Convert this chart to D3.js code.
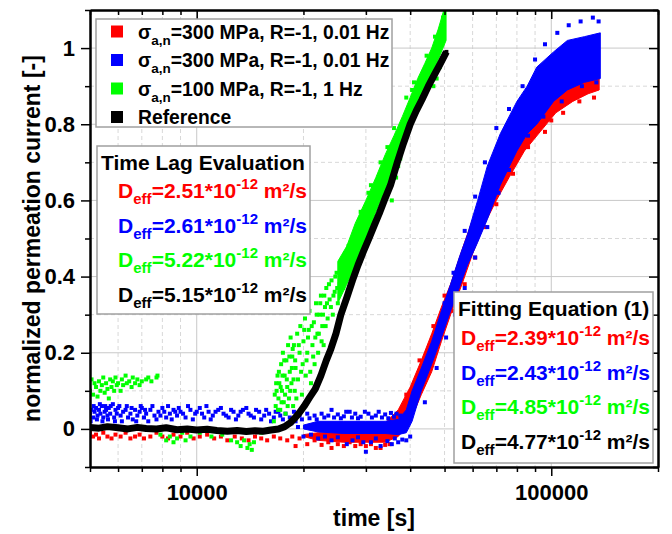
<!DOCTYPE html>
<html>
<head>
<meta charset="utf-8">
<script src="https://cdn.jsdelivr.net/npm/d3@7/dist/d3.min.js"></script>
<style>
  body { margin: 0; background: #fff; }
  text { font-family: "Liberation Sans", Arial, sans-serif; font-weight: bold; }
</style>
</head>
<body>
<div id="root"></div>
<script>
// ---- data ----
var colors = ["#ff0000", "#0000ff", "#00ff00", "#000000"];

var xMajor = [10000, 100000];
var xMinor = [5000, 6000, 7000, 8000, 9000, 20000, 30000, 40000, 50000, 60000, 70000, 80000, 90000, 200000];
var yMajor = [0, 0.2, 0.4, 0.6, 0.8, 1];
var yMinor = [-0.1, 0.1, 0.3, 0.5, 0.7, 0.9, 1.1];

var legendSub = ["a,n", "a,n", "a,n", ""];
var legendRest = ["=300 MPa, R=-1, 0.01 Hz", "=300 MPa, R=-1, 0.01 Hz", "=100 MPa, R=-1, 1 Hz", "Reference"];

var lagValues = ["2.51", "2.61", "5.22", "5.15"];
var fitValues = ["2.39", "2.43", "4.85", "4.77"];

// reference (black), centre of the dense trace
var refT = [5000, 5300, 5600, 6000, 6400, 6800, 7200, 7700, 8200, 8800, 9400, 10000, 10700, 11400, 12200, 13000, 13800, 14600, 15400, 16200, 17000, 17700, 18300, 18900, 19500, 20100, 20800, 21600, 22400, 23200, 23900, 24700, 25500, 26500, 27500, 28500, 29500, 30600, 31700, 32700, 33800, 35200, 36800, 38300, 40000, 41600, 43200, 45000, 46800, 48700, 50600];
var refY = [0.004, 0.002, 0.006, 0.003, 0, 0.004, 0.001, 0, 0.003, -0.002, 0, -0.003, -0.001, -0.004, -0.006, -0.004, -0.007, -0.005, -0.006, -0.003, 0, 0.006, 0.015, 0.028, 0.043, 0.06, 0.082, 0.105, 0.14, 0.18, 0.21, 0.25, 0.3, 0.345, 0.39, 0.43, 0.465, 0.5, 0.535, 0.565, 0.6, 0.64, 0.7, 0.75, 0.8, 0.835, 0.865, 0.9, 0.93, 0.96, 0.99];

// dense clouds: lower / upper envelope
var redT = [20000, 22000, 26000, 30000, 34000, 37000, 40000, 43000, 46000, 49000, 52000, 56000, 60000, 65000, 70000, 76000, 84000, 93000, 103000, 115000, 127000, 136500];
var redLo = [-0.02, -0.03, -0.035, -0.035, -0.035, -0.02, 0.02, 0.09, 0.15, 0.23, 0.3, 0.38, 0.46, 0.54, 0.6, 0.66, 0.73, 0.78, 0.83, 0.86, 0.88, 0.89];
var redHi = [-0.015, -0.01, -0.01, -0.01, 0.015, 0.05, 0.11, 0.18, 0.25, 0.32, 0.38, 0.47, 0.55, 0.62, 0.67, 0.72, 0.79, 0.84, 0.88, 0.91, 0.93, 0.945];

var blueT = [20000, 22000, 26000, 30000, 34000, 37000, 39000, 40500, 43000, 46000, 49000, 52000, 55000, 58000, 62000, 66000, 71800, 80000, 85500, 91000, 101500, 111000, 124000, 137500];
var blueLo = [0.0, -0.008, -0.012, -0.012, -0.012, -0.015, -0.01, 0.02, 0.1, 0.17, 0.24, 0.31, 0.37, 0.43, 0.49, 0.55, 0.64, 0.73, 0.775, 0.8, 0.86, 0.89, 0.91, 0.92];
var blueHi = [0.01, 0.02, 0.02, 0.02, 0.02, 0.025, 0.05, 0.1, 0.16, 0.23, 0.31, 0.38, 0.45, 0.51, 0.6, 0.69, 0.775, 0.86, 0.9, 0.95, 0.99, 1.02, 1.03, 1.04];

var greenT = [25000, 26500, 28000, 30000, 32000, 34000, 36000, 38000, 40000, 42000, 44000, 46000, 48000, 50500];
var greenLo = [0.33, 0.38, 0.43, 0.5, 0.57, 0.63, 0.69, 0.75, 0.8, 0.85, 0.89, 0.93, 0.97, 1.02];
var greenHi = [0.44, 0.48, 0.54, 0.6, 0.66, 0.72, 0.77, 0.82, 0.87, 0.92, 0.96, 1.0, 1.05, 1.12];

// loose points around the clouds
var redPts = [[5000, -0.01], [5100, -0.02], [5200, -0.015], [5300, -0.025], [5450, -0.01], [5600, -0.02], [5750, -0.025], [5900, -0.015], [6100, -0.02], [6300, -0.01], [6500, -0.025], [6700, -0.02], [6900, -0.015], [7100, -0.025], [7400, -0.02], [7700, -0.01], [8000, -0.02], [8300, -0.025], [8600, -0.015], [9000, -0.02], [9400, -0.01], [9800, -0.025], [10200, -0.02], [10700, -0.015], [11200, -0.025], [11700, -0.02], [12200, -0.03], [12800, -0.02], [13400, -0.025], [14000, -0.03], [14600, -0.02], [15200, -0.025], [15800, -0.03], [16500, -0.02], [17200, -0.025], [18000, -0.03], [18600, -0.02], [19000, -0.045], [19500, -0.025],
  [20500, -0.04], [21500, -0.03], [22500, -0.042], [23500, -0.035], [24000, -0.05], [25000, -0.04], [26000, -0.045], [27000, -0.035], [28000, -0.045], [29000, -0.04], [30000, -0.045], [31000, -0.04], [32000, -0.05], [33000, -0.05], [34000, -0.042], [35000, -0.04], [36000, 0.03], [39000, 0.09], [42500, 0.18], [46500, 0.27], [50000, 0.35], [53000, 0.31], [57000, 0.38], [61000, 0.45], [65000, 0.53], [70000, 0.59], [78000, 0.67], [86000, 0.74], [96000, 0.78], [100000, 0.81], [108000, 0.83], [120000, 0.86], [132000, 0.87]];

var bluePts = [[5000, 0.04], [5050, 0.05], [5100, 0.03], [5150, 0.045], [5200, 0.055], [5250, 0.035], [5300, 0.05], [5350, 0.04], [5400, 0.06], [5450, 0.03], [5500, 0.045], [5550, 0.05], [5600, 0.035], [5650, 0.055], [5700, 0.04], [5800, 0.065], [5850, 0.03], [5900, 0.05], [5950, 0.04], [6000, 0.055], [6100, 0.035], [6200, 0.045], [6300, 0.05], [6400, 0.03], [6500, 0.04], [6600, 0.025], [6700, 0.05], [6800, 0.035], [6900, 0.045], [7000, 0.055], [7100, 0.03], [7200, 0.04], [7400, 0.05], [7600, 0.035], [7800, 0.045], [8000, 0.055], [8200, 0.03], [8400, 0.04], [8600, 0.05], [8800, 0.035], [9000, 0.045], [9300, 0.03], [9600, 0.05], [9900, 0.04], [10200, 0.055], [10500, 0.03], [10800, 0.045], [11100, 0.035], [11500, 0.05], [11900, 0.04], [12300, 0.03], [12700, 0.045], [13100, 0.035], [13500, 0.05], [14000, 0.04], [14500, 0.03], [15000, 0.045], [15500, 0.035], [16000, 0.04], [16500, 0.03], [17000, 0.045], [17500, 0.025],
  [5020, 0.02], [5120, 0.06], [5230, 0.025], [5330, 0.065], [5420, 0.02], [5520, 0.06], [5620, 0.025], [5720, 0.06], [5880, 0.02], [6050, 0.06], [6150, 0.02], [6350, 0.06], [6550, 0.055], [6750, 0.02], [6950, 0.06], [7150, 0.05], [7300, 0.02], [7500, 0.06], [7700, 0.025], [7900, 0.035], [8100, 0.045], [8300, 0.06], [8500, 0.025], [8700, 0.045], [8900, 0.055], [9150, 0.04], [9450, 0.06], [9750, 0.025], [10000, 0.045], [10350, 0.04], [10650, 0.06], [10950, 0.025], [11300, 0.045], [11700, 0.055], [12100, 0.035], [12500, 0.05], [12900, 0.025], [13300, 0.045], [13800, 0.055], [14200, 0.035], [14700, 0.05], [15200, 0.025], [15700, 0.05], [16200, 0.02], [16700, 0.045], [17200, 0.035], [17800, 0.04], [18300, 0.03], [18800, 0.045],
  [18500, 0.015], [19000, 0.02], [19300, 0.005], [19500, 0.035], [19800, 0.025], [20500, 0.04], [20800, 0.028], [21500, 0.035], [21800, 0.025], [22500, 0.04], [22900, 0.03], [23500, 0.035], [24000, 0.05], [24400, 0.03], [25000, 0.038], [25500, 0.028], [26000, 0.033], [26400, 0.045], [27000, 0.045], [27400, 0.03], [28000, 0.04], [28500, 0.028], [29000, 0.032], [29800, 0.045], [30500, 0.04], [31200, 0.03], [32000, 0.035], [32600, 0.045], [33300, 0.03], [34000, 0.038], [34700, 0.028], [35300, 0.042], [36000, 0.032], [36600, 0.04], [37500, 0.035],
  [20000, -0.02], [21000, -0.015], [22000, -0.025], [23000, -0.02], [24000, -0.03], [25000, -0.022], [26500, -0.04], [27500, -0.03], [28500, -0.022], [29500, -0.035], [30000, -0.06], [31000, -0.035], [32000, -0.025], [33000, -0.045], [34500, -0.032], [35500, -0.04], [36200, -0.025], [37000, -0.035], [38000, -0.028], [39000, -0.03], [40000, -0.02],
  [44000, 0.07], [47500, 0.16], [50500, 0.24], [53500, 0.3], [57000, 0.37], [61000, 0.45], [66000, 0.53], [71000, 0.62], [76000, 0.68], [50000, 0.33], [53000, 0.41], [57000, 0.52], [61000, 0.61], [65000, 0.7], [70000, 0.79], [76000, 0.84], [83000, 0.9], [90000, 0.97], [96000, 1.01], [104000, 1.04], [112000, 1.06], [121000, 1.07], [131000, 1.08], [136000, 1.07], [107000, 0.86], [122000, 0.9], [134000, 0.91], [86000, 0.77], [95000, 0.82]];

var greenPts = [[5000, 0.1], [5050, 0.13], [5100, 0.09], [5150, 0.12], [5200, 0.11], [5250, 0.085], [5300, 0.125], [5350, 0.1], [5400, 0.115], [5450, 0.135], [5500, 0.095], [5550, 0.12], [5600, 0.105], [5650, 0.08], [5700, 0.13], [5750, 0.11], [5800, 0.125], [5850, 0.1], [5900, 0.135], [5950, 0.115], [6000, 0.12], [6100, 0.1], [6150, 0.13], [6200, 0.115], [6300, 0.14], [6350, 0.12], [6450, 0.125], [6550, 0.11], [6600, 0.135], [6700, 0.12], [6800, 0.13], [6900, 0.115], [7000, 0.125], [7200, 0.13], [7300, 0.135], [7450, 0.125], [7700, 0.135], [7750, 0.14],
  [7900, -0.015], [8200, -0.03], [8400, -0.02], [8600, -0.035], [8800, -0.025], [9100, -0.01], [9300, -0.03], [9600, -0.02], [10200, -0.01], [11000, -0.02], [11800, -0.015], [12500, -0.03], [13000, -0.035], [13300, -0.045], [13600, -0.03], [13900, -0.05], [14100, -0.04], [14300, -0.055], [14500, -0.035], [15200, -0.01], [16000, 0], [16500, 0.02],
  [16700, 0.06], [16800, 0.1], [16900, 0.14], [17000, 0.08], [17100, 0.12], [17200, 0.05], [17300, 0.17], [17400, 0.1], [17500, 0.2], [17600, 0.07], [17700, 0.14], [17800, 0.04], [17900, 0.18], [18000, 0.11], [18100, 0.22], [18200, 0.08], [18300, 0.15], [18400, 0.24], [18500, 0.12], [18600, 0.19], [18700, 0.06], [18800, 0.22], [18900, 0.1], [19000, 0.16], [19200, 0.25], [19300, 0.13], [19500, 0.2], [19600, 0.27], [19800, 0.09], [19900, 0.17], [20000, 0.23], [20200, 0.29], [20300, 0.14], [20500, 0.2], [20700, 0.26], [20800, 0.31], [21000, 0.12], [21200, 0.22], [21400, 0.28], [21500, 0.17], [21700, 0.33], [21900, 0.25], [22000, 0.2], [22200, 0.3], [22400, 0.35], [22600, 0.27], [22800, 0.22], [23000, 0.32], [23200, 0.37], [23400, 0.29], [23700, 0.34], [24000, 0.39], [24200, 0.3], [24500, 0.36], [24800, 0.41], [25000, 0.33], [25300, 0.38], [25600, 0.43], [25900, 0.37], [26200, 0.46], [26500, 0.4], [26800, 0.48], [27100, 0.43],
  [16600, 0.09], [16750, 0.12], [16950, 0.05], [17050, 0.15], [17250, 0.11], [17350, 0.07], [17450, 0.14], [17650, 0.18], [17750, 0.09], [17950, 0.13], [18050, 0.06], [18250, 0.19], [18350, 0.1], [18550, 0.16], [18650, 0.21], [18750, 0.13], [18950, 0.18], [19100, 0.08], [19400, 0.22], [19700, 0.15], [20100, 0.26], [20400, 0.18], [20600, 0.24], [20900, 0.15], [21100, 0.27], [21300, 0.19], [21600, 0.24], [21800, 0.3], [22100, 0.25], [22300, 0.33], [22500, 0.23], [22700, 0.3], [22900, 0.35], [23100, 0.27], [23300, 0.33], [23600, 0.38], [23900, 0.32], [24300, 0.35], [24600, 0.4], [24900, 0.37],
  [27500, 0.5], [28500, 0.47], [29000, 0.57], [30500, 0.62], [31000, 0.64], [32500, 0.6], [33000, 0.7], [34500, 0.74], [35500, 0.6], [36000, 0.79], [36500, 0.66], [37000, 0.69], [37500, 0.71], [38500, 0.77], [39000, 0.87], [40500, 0.89], [41000, 0.91], [42500, 0.87], [44500, 0.98], [46500, 0.9], [47000, 1.03], [47500, 0.92], [48500, 0.95], [49500, 1.08]];

// ---- chart ----
var W = 672, H = 534;
var margin = { top: 10, right: 14, bottom: 67, left: 90 };
var width = W - margin.left - margin.right;
var height = H - margin.top - margin.bottom;

var svg = d3.select("#root").append("svg")
    .attr("width", W)
    .attr("height", H);

var graph = svg.append("g")
    .attr("transform", "translate(" + margin.left + "," + margin.top + ")");

var x = d3.scaleLog().domain([5000, 200000]).range([0, width]);
var y = d3.scaleLinear().domain([-0.1, 1.1]).range([height, 0]);

// grid
graph.selectAll(".gx").data(xMinor.filter(function (d) { return d > 5000 && d < 200000; })).enter().append("line")
    .attr("x1", d => x(d)).attr("x2", d => x(d)).attr("y1", 0).attr("y2", height)
    .attr("stroke", "#d8d8d8").attr("stroke-dasharray", "4,3");
graph.selectAll(".gy").data(yMinor.filter(function (d) { return d > -0.1 && d < 1.1; })).enter().append("line")
    .attr("x1", 0).attr("x2", width).attr("y1", d => y(d)).attr("y2", d => y(d))
    .attr("stroke", "#d8d8d8").attr("stroke-dasharray", "4,3");
graph.selectAll(".gX").data(xMajor).enter().append("line")
    .attr("x1", d => x(d)).attr("x2", d => x(d)).attr("y1", 0).attr("y2", height)
    .attr("stroke", "#c8c8c8");
graph.selectAll(".gY").data(yMajor).enter().append("line")
    .attr("x1", 0).attr("x2", width).attr("y1", d => y(d)).attr("y2", d => y(d))
    .attr("stroke", "#c8c8c8");

// data layer, clipped to the frame
svg.append("clipPath").attr("id", "clip")
    .append("rect").attr("width", width).attr("height", height);
var plot = graph.append("g").attr("clip-path", "url(#clip)");

function band(ts, lo, hi, color)
{
    var rows = ts.map(function (t, i) { return { t: t, lo: lo[i], hi: hi[i] }; });
    plot.append("path")
        .datum(rows)
        .attr("fill", color)
        .attr("stroke", color)
        .attr("stroke-width", 1)
        .attr("d", d3.area()
            .x(d => x(d.t))
            .y0(d => y(d.lo))
            .y1(d => y(d.hi))
        );
}

function dots(pts, color)
{
    plot.append("g").selectAll("rect").data(pts).enter().append("rect")
        .attr("x", d => x(d[0]) - 2)
        .attr("y", d => y(d[1]) - 2)
        .attr("width", 4)
        .attr("height", 4)
        .attr("fill", color);
}

band(redT, redLo, redHi, colors[0]);
dots(redPts, colors[0]);
band(blueT, blueLo, blueHi, colors[1]);
dots(bluePts, colors[1]);
band(greenT, greenLo, greenHi, colors[2]);
dots(greenPts, colors[2]);

// reference trace
var ref = refT.map(function (t, i) { return [t, refY[i]]; });
plot.append("path")
    .datum(ref)
    .attr("fill", "none")
    .attr("stroke", colors[3])
    .attr("stroke-width", 7)
    .attr("stroke-linejoin", "round")
    .attr("d", d3.line().x(d => x(d[0])).y(d => y(d[1])));
dots(ref, colors[3]);

// axes
function styleAxis(g)
{
    g.select(".domain").attr("stroke-width", 2);
    g.selectAll(".tick line").attr("stroke-width", 1.5);
    g.selectAll("text").style("font-size", "22px").attr("fill", "#000");
}

graph.append("g").attr("transform", "translate(0," + height + ")")
    .call(d3.axisBottom(x).tickValues(xMajor).tickFormat(d3.format("d")).tickSize(9).tickSizeOuter(0).tickPadding(8))
    .call(styleAxis);
graph.append("g").attr("transform", "translate(0," + height + ")")
    .call(d3.axisBottom(x).tickValues(xMinor).tickFormat("").tickSize(5).tickSizeOuter(0))
    .call(styleAxis);
graph.append("g")
    .call(d3.axisTop(x).tickValues(xMajor).tickFormat("").tickSize(-9).tickSizeOuter(0))
    .call(styleAxis);
graph.append("g")
    .call(d3.axisTop(x).tickValues(xMinor).tickFormat("").tickSize(-5).tickSizeOuter(0))
    .call(styleAxis);

graph.append("g")
    .call(d3.axisLeft(y).tickValues(yMajor).tickFormat(d3.format("~g")).tickSize(9).tickSizeOuter(0).tickPadding(6))
    .call(styleAxis);
graph.append("g")
    .call(d3.axisLeft(y).tickValues(yMinor).tickFormat("").tickSize(5).tickSizeOuter(0))
    .call(styleAxis);
graph.append("g").attr("transform", "translate(" + width + ",0)")
    .call(d3.axisRight(y).tickValues(yMajor).tickFormat("").tickSize(-9).tickSizeOuter(0))
    .call(styleAxis);
graph.append("g").attr("transform", "translate(" + width + ",0)")
    .call(d3.axisRight(y).tickValues(yMinor).tickFormat("").tickSize(-5).tickSizeOuter(0))
    .call(styleAxis);

// axis titles
svg.append("text")
    .attr("x", margin.left + width / 2)
    .attr("y", 526)
    .style("text-anchor", "middle")
    .style("font-size", "23px")
    .text("time [s]");

svg.append("text")
    .attr("transform", "translate(40," + (margin.top + height / 2) + ") rotate(-90)")
    .style("text-anchor", "middle")
    .style("font-size", "23px")
    .text("normalized permeation current [-]");

// legend
var leg = svg.append("g");
leg.append("rect").attr("x", 96).attr("y", 19).attr("width", 296).attr("height", 108)
    .attr("fill", "#fff").attr("stroke", "#a0a0a0").attr("stroke-width", 1.5);
legendRest.forEach(function (label, i)
{
    var cy = 31.5 + i * 28.5;
    leg.append("rect").attr("x", 111).attr("y", cy - 6).attr("width", 12).attr("height", 12).attr("fill", colors[i]);
    var t = leg.append("text").attr("x", 138).attr("y", cy + 7).style("font-size", "19.3px");
    if (legendSub[i])
    {
        t.append("tspan").text("σ");
        t.append("tspan").attr("dy", 6).style("font-size", "13.5px").text(legendSub[i]);
        t.append("tspan").attr("dy", -6).text(label);
    }
    else
    {
        t.text(label);
    }
});

// D_eff text boxes
function deffBox(bx, by, bw, bh, title, values, rowTop)
{
    var g = svg.append("g");
    g.append("rect").attr("x", bx).attr("y", by).attr("width", bw).attr("height", bh)
        .attr("fill", "#fff").attr("stroke", "#a0a0a0").attr("stroke-width", 1.5);
    g.append("text").attr("x", bx + 4).attr("y", by + 24).style("font-size", "21px").text(title);
    values.forEach(function (v, i)
    {
        var t = g.append("text")
            .attr("x", bx + bw - 3)
            .attr("y", rowTop + i * 34.5)
            .style("text-anchor", "end")
            .style("font-size", "21px")
            .attr("fill", colors[i]);
        t.append("tspan").text("D");
        t.append("tspan").attr("dy", 6).style("font-size", "15px").text("eff");
        t.append("tspan").attr("dy", -6).text("=" + v + "*10");
        t.append("tspan").attr("dy", -9).style("font-size", "15px").text("-12");
        t.append("tspan").attr("dy", 9).text(" m²/s");
    });
}

deffBox(97, 146, 213, 168, "Time Lag Evaluation", lagValues, 198);
deffBox(454, 292, 199, 171, "Fitting Equation (1)", fitValues, 345);
</script>
</body>
</html>
